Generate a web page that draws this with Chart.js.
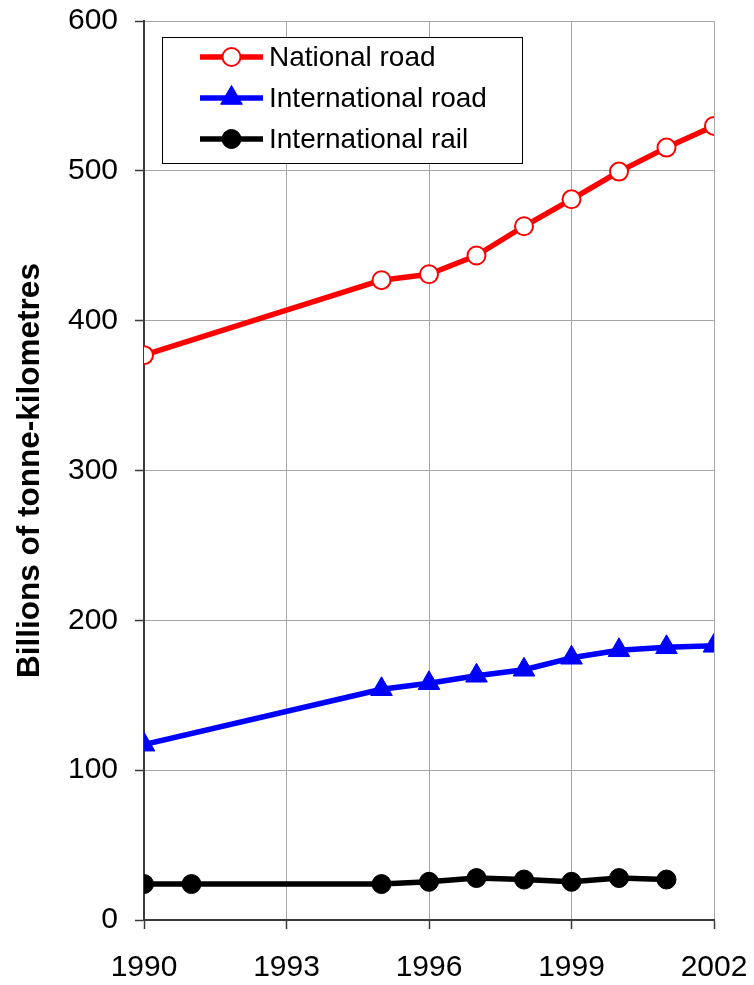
<!DOCTYPE html>
<html>
<head>
<meta charset="utf-8">
<script src="https://cdn.jsdelivr.net/npm/chart.js@4/dist/chart.umd.min.js"></script>
<style>
  html, body { margin: 0; padding: 0; background: #ffffff; }
  #wrap { width: 754px; height: 985px; }
</style>
</head>
<body>
<div id="wrap"><canvas id="chart" width="754" height="985"></canvas></div>
<script>
// Freight transport, billions of tonne-kilometres
const roadYears = [1990, 1995, 1996, 1997, 1998, 1999, 2000, 2001, 2002];
const nationalRoad = [377, 427, 431, 443.5, 463, 481, 499.5, 515.5, 530];
const internationalRoad = [117, 154, 158, 163, 167, 175, 180, 182, 183];

const railYears = [1990, 1991, 1995, 1996, 1997, 1998, 1999, 2000, 2001];
const internationalRail = [24, 24, 24, 25.5, 28, 27, 25.5, 28, 27];

const seriesNames = ['National road', 'International road', 'International rail'];
const yAxisTitle = 'Billions of tonne-kilometres';

const toPoints = (xs, ys) => xs.map((x, i) => ({ x: x, y: ys[i] }));

// Boxed legend with a line-and-marker sample for each series
const boxedLegend = {
  id: 'boxedLegend',
  afterDraw(chart, args, opts) {
    const { ctx, chartArea } = chart;
    const x0 = chartArea.left + opts.offsetX;
    const y0 = chartArea.top + opts.offsetY;
    ctx.save();
    ctx.fillStyle = '#ffffff';
    ctx.fillRect(x0, y0, opts.width, opts.height);
    ctx.strokeStyle = '#000000';
    ctx.lineWidth = 1;
    ctx.strokeRect(x0 + 0.5, y0 + 0.5, opts.width, opts.height);
    chart.data.datasets.forEach((ds, i) => {
      const cy = y0 + opts.firstRow + i * opts.rowGap;
      ctx.strokeStyle = ds.borderColor;
      ctx.lineWidth = ds.borderWidth;
      ctx.lineCap = 'butt';
      ctx.beginPath();
      ctx.moveTo(x0 + opts.lineStart, cy);
      ctx.lineTo(x0 + opts.lineEnd, cy);
      ctx.stroke();
      ctx.fillStyle = ds.pointBackgroundColor;
      ctx.strokeStyle = ds.pointBorderColor;
      ctx.lineWidth = ds.pointBorderWidth;
      Chart.helpers.drawPoint(ctx, {
        pointStyle: ds.pointStyle,
        radius: ds.pointRadius,
        borderWidth: ds.pointBorderWidth,
        rotation: 0
      }, x0 + (opts.lineStart + opts.lineEnd) / 2, cy);
      ctx.fillStyle = '#000000';
      ctx.font = opts.font;
      ctx.textAlign = 'left';
      ctx.textBaseline = 'middle';
      ctx.fillText(ds.label, x0 + opts.textStart, cy + 1);
    });
    ctx.restore();
  }
};

// Let the layout padding alone place the plot area
const noOverhang = (scale) => {
  scale.paddingTop = 0;
  scale.paddingBottom = 0;
  scale.paddingLeft = 0;
  scale.paddingRight = 0;
};

const axisColor = '#3a3a3a';
const gridColor = '#a6a6a6';

new Chart(document.getElementById('chart'), {
  type: 'line',
  data: {
    datasets: [
      {
        label: seriesNames[0],
        data: toPoints(roadYears, nationalRoad),
        borderColor: '#ff0000',
        borderWidth: 5.5,
        pointStyle: 'circle',
        pointRadius: 9,
        pointBackgroundColor: '#ffffff',
        pointBorderColor: '#ff0000',
        pointBorderWidth: 2
      },
      {
        label: seriesNames[1],
        data: toPoints(roadYears, internationalRoad),
        borderColor: '#0000ff',
        borderWidth: 5.5,
        pointStyle: 'triangle',
        pointRadius: 12.5,
        pointBackgroundColor: '#0000ff',
        pointBorderColor: '#0000ff',
        pointBorderWidth: 1
      },
      {
        label: seriesNames[2],
        data: toPoints(railYears, internationalRail),
        borderColor: '#000000',
        borderWidth: 5.5,
        pointStyle: 'circle',
        pointRadius: 9.5,
        pointBackgroundColor: '#000000',
        pointBorderColor: '#000000',
        pointBorderWidth: 1
      }
    ]
  },
  options: {
    responsive: false,
    animation: false,
    events: [],
    layout: { padding: { top: 21, right: 40, bottom: 0, left: 0 } },
    elements: { line: { tension: 0, borderJoinStyle: 'round' } },
    plugins: {
      legend: { display: false },
      tooltip: { enabled: false },
      boxedLegend: {
        offsetX: 18, offsetY: 16, width: 360, height: 126,
        firstRow: 20, rowGap: 41,
        lineStart: 38, lineEnd: 101, textStart: 107,
        font: '28px "Liberation Sans", Arial, sans-serif'
      }
    },
    scales: {
      x: {
        type: 'linear',
        min: 1990,
        max: 2002,
        offset: false,
        afterFit(scale) { scale.height = 65; noOverhang(scale); },
        ticks: {
          stepSize: 3,
          padding: 21,
          color: '#000000',
          font: { family: '"Liberation Sans", Arial, sans-serif', size: 30 },
          maxRotation: 0,
          callback: (v) => String(v)
        },
        grid: { color: gridColor, lineWidth: 1, tickLength: 9, tickColor: axisColor, tickWidth: 1.5 },
        border: { color: axisColor, width: 2 }
      },
      y: {
        min: 0,
        max: 600,
        afterFit(scale) { scale.width = 144; noOverhang(scale); },
        ticks: {
          stepSize: 100,
          padding: 17,
          color: '#000000',
          font: { family: '"Liberation Sans", Arial, sans-serif', size: 30 }
        },
        grid: { color: gridColor, lineWidth: 1, tickLength: 9, tickColor: axisColor, tickWidth: 1.5 },
        border: { color: axisColor, width: 2 },
        title: {
          display: true,
          text: yAxisTitle,
          color: '#000000',
          padding: { top: 11, bottom: 0 },
          font: { family: '"Liberation Sans", Arial, sans-serif', size: 31.5, weight: 'bold' }
        }
      }
    }
  },
  plugins: [boxedLegend]
});
</script>
</body>
</html>
